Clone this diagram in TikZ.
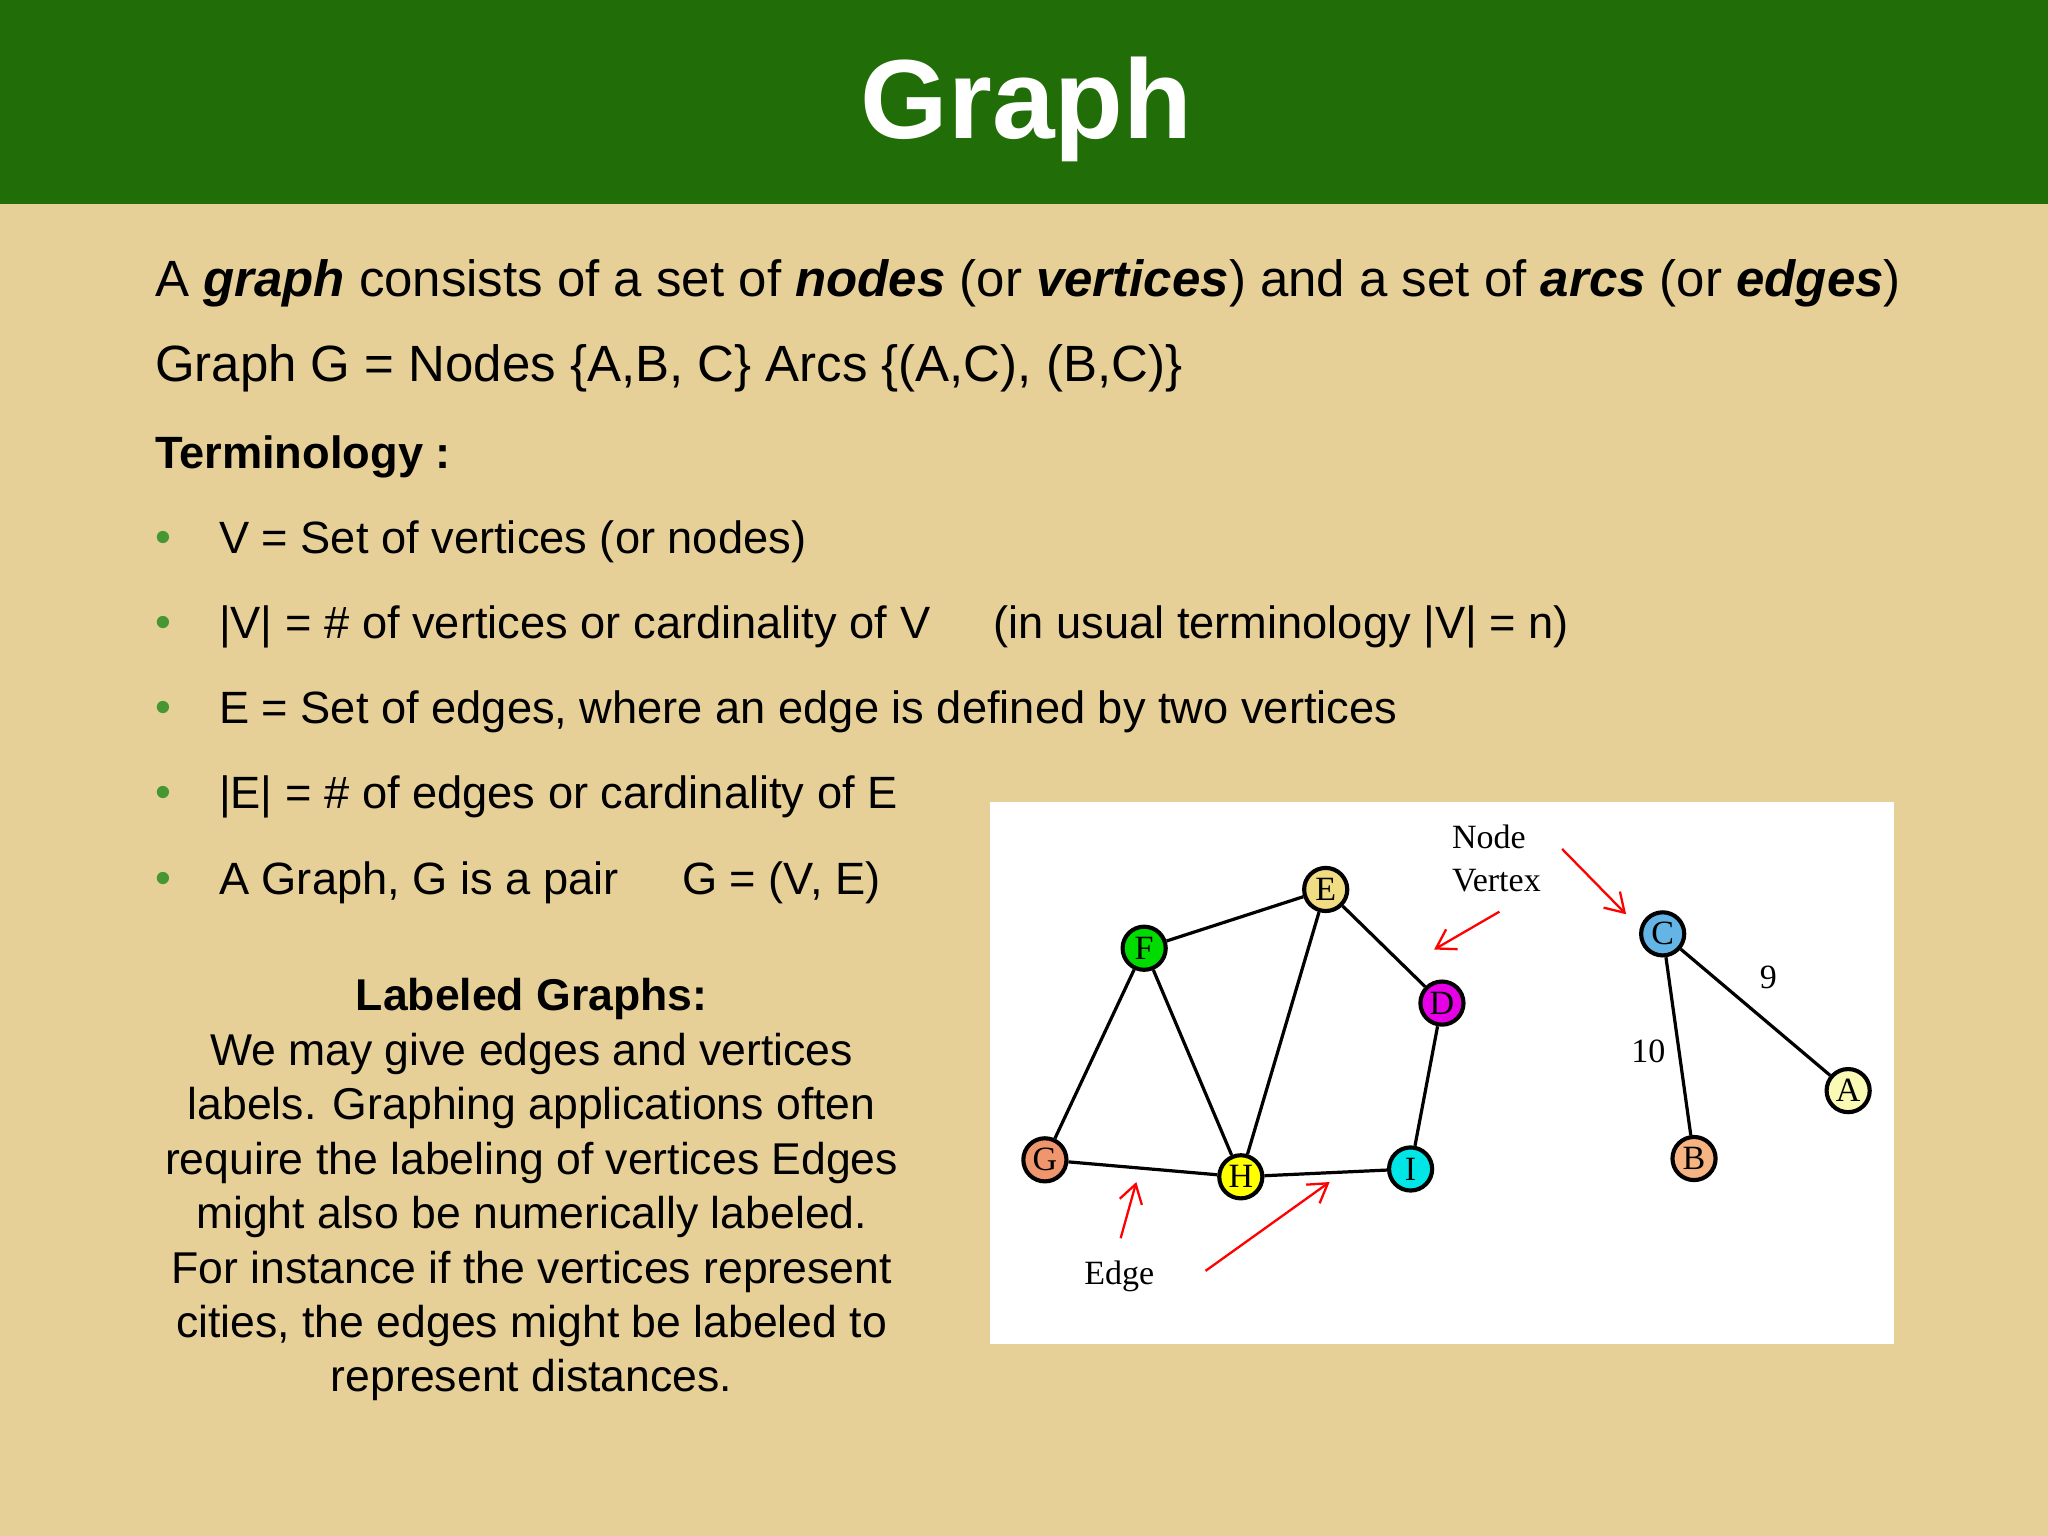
\documentclass[tikz,border=0pt]{standalone}
\usepackage{fontspec}
\setmainfont{Liberation Sans}
\newfontfamily\serifg{Liberation Serif}
\usetikzlibrary{arrows.meta}
\definecolor{bgtan}{RGB}{230,208,152}
\definecolor{hdr}{RGB}{33,110,8}
\definecolor{bul}{RGB}{70,150,50}
\begin{document}
\begin{tikzpicture}[x=0.01cm,y=-0.01cm,
  txt/.style={anchor=west,inner sep=0,font=\fontsize{11.1}{13}\selectfont},
  btxt/.style={anchor=west,inner sep=0,font=\fontsize{9.85}{12}\selectfont},
  vtx/.style={circle,draw=black,line width=0.9pt,minimum size=0.33cm,inner sep=0,font=\serifg\fontsize{7.4}{8}\selectfont},
  edg/.style={line width=0.7pt},
  rarr/.style={red,line width=0.5pt,-{Straight Barb[length=4pt,width=5pt]}},
  glab/.style={font=\serifg\fontsize{7.4}{8}\selectfont,inner sep=0}]
\useasboundingbox (0,0) rectangle (1568,1176);
\fill[bgtan] (0,0) rectangle (1568,156);
\fill[bgtan] (0,0) rectangle (1568,1176);
\fill[hdr] (0,0) rectangle (1568,156);
\node[white,font=\bfseries\fontsize{24.5}{28}\selectfont] (title) at (786,84) {Graph};
\node[txt] (l1) at (118,217) {A \textbf{\textit{graph}} consists of a set of \textbf{\textit{nodes}} (or \textbf{\textit{vertices}}) and a set of \textbf{\textit{arcs}} (or \textbf{\textit{edges}})};
\node[txt] (l2) at (118,282) {Graph G = Nodes \{A,B, C\} Arcs \{(A,C), (B,C)\}};
\node[btxt,font=\bfseries\fontsize{9.85}{12}\selectfont] (term) at (118,350) {Terminology :};
\foreach \yy/\tt [count=\i] in {415/{V = Set of vertices (or nodes)},
  480/{|V| = \# of vertices or cardinality of V\hspace{1.4em}(in usual terminology |V| = n)},
  545/{E = Set of edges, where an edge is defined by two vertices},
  610/{|E| = \# of edges or cardinality of E},
  676/{A Graph, G is a pair\hspace{1.4em}G = (V, E)}}{
  \node[btxt,bul] (b\i) at (118,\yy) {\textbullet};
  \node[btxt] (t\i) at (167,\yy) {\tt};
}
\node[align=center,inner sep=0,font=\fontsize{9.7}{11.85}\selectfont] (lg) at (407,911) {\textbf{Labeled Graphs:}\\We may give edges and vertices\\labels. Graphing applications often\\require the labeling of vertices Edges\\might also be numerically labeled.\\For instance if the vertices represent\\cities, the edges might be labeled to\\represent distances.};
\fill[white] (758,614) rectangle (1450,1029);
\node[vtx,fill={rgb,255:red,0;green,220;blue,0}] (F) at (876,726) {F};
\node[vtx,fill={rgb,255:red,240;green,220;blue,130}] (E) at (1015,681) {E};
\node[vtx,fill={rgb,255:red,230;green,0;blue,230}] (D) at (1104,768) {D};
\node[vtx,fill={rgb,255:red,240;green,150;blue,110}] (G) at (800,888) {G};
\node[vtx,fill={rgb,255:red,255;green,255;blue,0}] (H) at (950,901) {H};
\node[vtx,fill={rgb,255:red,0;green,230;blue,230}] (I) at (1080,895) {I};
\node[vtx,fill={rgb,255:red,100;green,180;blue,230}] (C) at (1273,715) {C};
\node[vtx,fill={rgb,255:red,250;green,250;blue,180}] (A) at (1415,835) {A};
\node[vtx,fill={rgb,255:red,245;green,180;blue,130}] (B) at (1297,887) {B};
\foreach \a/\b in {F/E,E/D,F/G,F/H,E/H,G/H,H/I,D/I,C/A,C/B}{\draw[edg] (\a) -- (\b);}
\node[glab] (n9) at (1354,748) {9};
\node[glab] (n10) at (1262,805) {10};
\node[glab,anchor=west] (nd) at (1111,641) {Node};
\node[glab,anchor=west] (vx) at (1111,674) {Vertex};
\node[glab] (ed) at (857,977) {Edge};
\coordinate (a1) at (1148,698); \coordinate (a1e) at (1098,727);
\coordinate (a2) at (1196,650); \coordinate (a2e) at (1245,700);
\coordinate (a3) at (858,948); \coordinate (a3e) at (870,905);
\coordinate (a4) at (923,973); \coordinate (a4e) at (1018,905);
\draw[rarr] (a1) -- (a1e);
\draw[rarr] (a2) -- (a2e);
\draw[rarr] (a3) -- (a3e);
\draw[rarr] (a4) -- (a4e);
\end{tikzpicture}
\end{document}
